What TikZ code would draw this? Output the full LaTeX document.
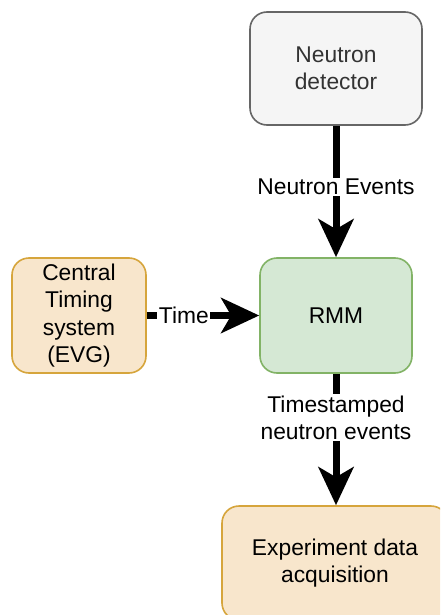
\documentclass[tikz,border=0pt]{standalone}
\usepackage{fontspec}
\setmainfont{Liberation Sans}
\usetikzlibrary{arrows.meta}
\definecolor{grayfill}{HTML}{F5F5F5}
\definecolor{graystroke}{HTML}{666666}
\definecolor{graytext}{HTML}{333333}
\definecolor{greenfill}{HTML}{D5E8D4}
\definecolor{greenstroke}{HTML}{82B366}
\definecolor{peachfill}{HTML}{F8E6CC}
\definecolor{peachstroke}{HTML}{D6A53C}
\begin{document}
\begin{tikzpicture}[x=1pt,y=-1pt,
  txt/.style={font=\fontsize{22.8}{27.4}\selectfont, align=center},
  box/.style={txt, draw, line width=1.6pt, rounded corners=17pt, inner sep=0pt},
  flow/.style={line width=7pt, -{Stealth[length=38pt,width=35pt,inset=10pt]}},
  tag/.style={txt, fill=white, inner sep=1.5pt}]
\useasboundingbox (0,0) rectangle (440,615);
\clip (0,0) rectangle (440,615);

% boxes
\node[box, fill=grayfill, draw=graystroke, text=graytext,
      minimum width=172pt, minimum height=113pt] (det) at (336,68.5) {Neutron\\detector};
\node[box, fill=greenfill, draw=greenstroke,
      minimum width=152pt, minimum height=115pt] (rmm) at (336,315.5) {RMM};
\node[box, fill=peachfill, draw=peachstroke,
      minimum width=134pt, minimum height=115pt] (cts) at (79,315.5) {Central\\Timing\\system\\(EVG)};
\node[box, fill=peachfill, draw=peachstroke,
      minimum width=226pt, minimum height=114pt] (eda) at (335,563) {Experiment data\\acquisition};

% connectors
\draw[flow] (det.south) -- node[tag, pos=0.466] (lne) {Neutron Events} (rmm.north);
\draw[flow] (cts.east) -- node[tag, pos=0.33] (ltime) {Time} (rmm.west);
\draw[flow] (rmm.south) -- node[tag, pos=0.335] (lts) {Timestamped\\neutron events} (rmm.south |- eda.north);
\end{tikzpicture}
\end{document}
